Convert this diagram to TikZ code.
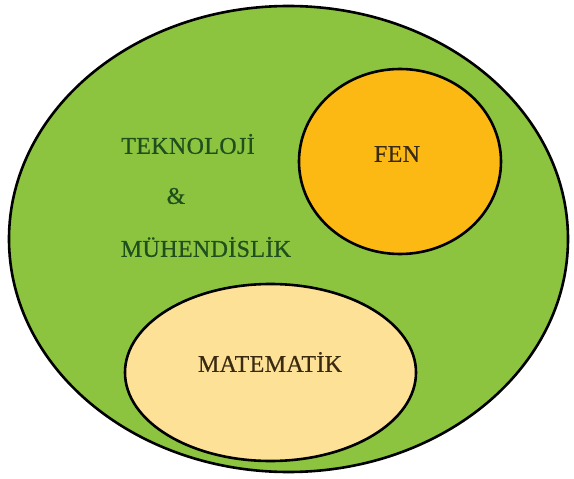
\documentclass[tikz,border=0pt]{standalone}
\usepackage{fontspec}
\setmainfont{Liberation Serif}[LetterSpace=1.5, FakeBold=0.6]
\usetikzlibrary{shapes.geometric}
\definecolor{cgreen}{HTML}{8CC43F}
\definecolor{corange}{HTML}{FDB913}
\definecolor{ccream}{HTML}{FDE197}
\definecolor{cdkgreen}{HTML}{1F4F1C}
\definecolor{cbrown}{HTML}{3A2A12}
\tikzset{
  every picture/.style={x=1pt, y=-1pt},
  blob/.style={ellipse, draw=black, fill=#1, line width=2.6pt, inner sep=0pt},
  blob/.default=cgreen,
  lbl/.style={font=\fontsize{24}{26}\selectfont, text=cbrown, inner sep=0pt},
  tlbl/.style={lbl, text=cdkgreen},
}

\begin{document}
\begin{tikzpicture}
  \useasboundingbox (0,0) rectangle (574,479);
  \node[blob=cgreen, minimum width=559pt, minimum height=466pt] (stem) at (288.5,239) {};
  \node[blob=corange, minimum width=202pt, minimum height=185pt] (fen) at (400,161.5) {};
  \node[blob=ccream, minimum width=291pt, minimum height=177pt] (mat) at (270.5,372.5) {};
  \node[tlbl] (tek) at (188,144) {TEKNOLOJİ};
  \node[tlbl] (amp) at (176,196) {\&};
  \node[tlbl] (muh) at (206,247) {MÜHENDİSLİK};
  \node[lbl] (fent) at (397,154) {FEN};
  \node[lbl] (matt) at (270,362) {MATEMATİK};
\end{tikzpicture}
\end{document}
